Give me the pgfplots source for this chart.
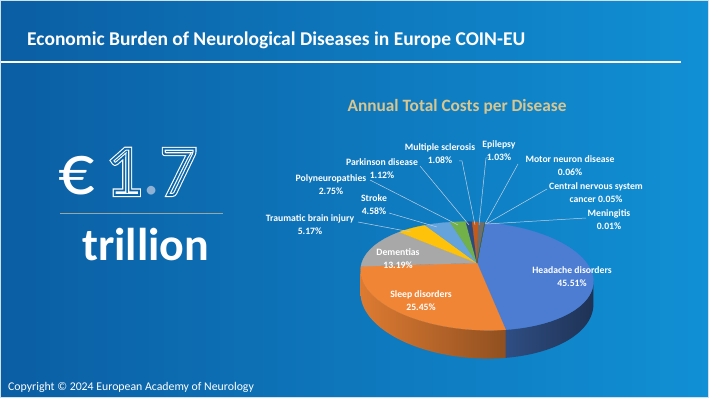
\documentclass[border=0pt]{standalone}
\usepackage{pgfplots}
\pgfplotsset{compat=1.18}
\usepackage{pgfplotstable}
\usepackage{fontspec}
\setmainfont{Carlito}

\definecolor{bgL}{HTML}{0B5EA3}
\definecolor{bgR}{HTML}{1190D5}
\definecolor{bgC}{HTML}{0C64A9}
\definecolor{brd}{HTML}{CFE0EE}
\definecolor{ttl}{HTML}{D8C690}
\definecolor{divC}{HTML}{9AA79E}
\definecolor{ldr}{HTML}{C0D0E0}
\definecolor{dotC}{HTML}{8FB2D4}
\definecolor{s0}{HTML}{4C7DD3}
\definecolor{s1}{HTML}{F08536}
\definecolor{s2}{HTML}{A8A8A8}
\definecolor{s3}{HTML}{FFC20A}
\definecolor{s4}{HTML}{64A3DC}
\definecolor{s5}{HTML}{72B04A}
\definecolor{s6}{HTML}{2A4A80}
\definecolor{s7}{HTML}{C25A1C}
\definecolor{s8}{HTML}{6E6E6E}
\definecolor{s9}{HTML}{997300}
\definecolor{s10}{HTML}{255E91}
\definecolor{s11}{HTML}{43682B}
% side wall shades (only the front slices show a side)
\colorlet{sL0}{s0!62!black}\colorlet{sR0}{s0!40!black}
\colorlet{sL1}{s1!92!black}\colorlet{sR1}{s1!60!black}
\colorlet{sL2}{s2!80!black}\colorlet{sR2}{s2!50!black}

% annual total costs per disease, percent (clockwise from top)
\pgfplotstableread{
pct
45.51
25.45
13.19
5.17
4.58
2.75
1.12
1.08
1.03
0.06
0.05
0.01
}\costs

\newcommand\outl[2]{\special{pdf:literal direct #1 w 1 Tr}#2\special{pdf:literal direct 0 Tr}}
\newcommand\dbl[1]{\rlap{\outl{4}{#1}}{\color{bgC}\outl{1.8}{#1}}}

\begin{document}
\begin{tikzpicture}[x=1pt,y=1pt]
\def\cum{0}
\pgfplotsforeachungrouped \i in {0,...,11}{%
  \pgfplotstablegetelem{\i}{pct}\of\costs
  \pgfmathsetmacro\sa{85-3.6*\cum}%
  \pgfmathsetmacro\cum{\cum+\pgfplotsretval}%
  \pgfmathsetmacro\sb{85-3.6*\cum}%
  \pgfmathsetmacro\vlo{max(\sb,-166.07)}%
  \pgfmathsetmacro\vhi{min(\sa,-13.93)}%
  \pgfmathtruncatemacro\vis{\vhi>\vlo}%
  \expandafter\xdef\csname SA\i\endcsname{\sa}%
  \expandafter\xdef\csname SB\i\endcsname{\sb}%
  \expandafter\xdef\csname VL\i\endcsname{\vlo}%
  \expandafter\xdef\csname VH\i\endcsname{\vhi}%
  \expandafter\xdef\csname SV\i\endcsname{\vis}%
}
\path[use as bounding box] (0,0) rectangle (709,398);
\shade[left color=bgL, right color=bgR] (0,0) rectangle (709,398);
\begin{axis}[at={(0,0)}, anchor=south west, scale only axis,
  width=709pt, height=398pt, xmin=0, xmax=709, ymin=0, ymax=398,
  y dir=reverse, hide axis, clip=false,
  declare function={
    px(\t)=477+113*cos(\t)/(1+0.2407*sin(\t));
    py(\t)=263+(5.31*cos(\t)-50.9*sin(\t))/(1+0.2407*sin(\t));
    dz(\t)=21.5/(1+0.2407*sin(\t));
    th(\t,\a,\b)=\a+(\b-\a)*min(\t,81-\t)/40;
  }]
% side walls
\pgfplotsinvokeforeach{0,...,11}{%
  \edef\vis{\csname SV#1\endcsname}%
  \ifnum\vis=1
    \edef\lo{\csname VL#1\endcsname}\edef\hi{\csname VH#1\endcsname}%
    \addplot[draw=none, left color=sL#1, right color=sR#1,
      domain=0:81, samples=82]
      ({px(th(x,\hi,\lo))},{py(th(x,\hi,\lo))+(x>40.5)*dz(th(x,\hi,\lo))}) -- cycle;
  \fi
}
% top faces
\pgfplotsinvokeforeach{0,...,11}{%
  \edef\lo{\csname SB#1\endcsname}\edef\hi{\csname SA#1\endcsname}%
  \addplot[fill=s#1, draw=s#1, line width=0.2pt, domain=\lo:\hi, samples=50]
    ({px(x)},{py(x)}) -- (axis cs:477,263) -- cycle;
}
% leader lines
\draw[ldr, line width=0.5pt] (420,166) -- (469,225);
\draw[ldr, line width=0.5pt] (459,161) -- (462,161) -- (475,225);
\draw[ldr, line width=0.5pt] (489,158) -- (486,158) -- (479,225);
\draw[ldr, line width=0.5pt] (518,164) -- (485,224);
\draw[ldr, line width=0.5pt] (547,189) -- (486,224);
\draw[ldr, line width=0.5pt] (586,218) -- (487,224);
\draw[ldr, line width=0.5pt] (370,180) -- (458,225);
\draw[ldr, line width=0.5pt] (389,213) -- (437,227);
\draw[ldr, line width=0.5pt] (358,222) -- (411,232);
% slice labels
\tikzset{lbl/.style={text=white, align=center, inner sep=0pt,
  font=\bfseries\fontsize{9.7}{12.8}\selectfont}}
\node[lbl] at (572,277) {Headache disorders\\45.51\%};
\node[lbl] at (421,301) {Sleep disorders\\25.45\%};
\node[lbl] at (398,259) {Dementias\\13.19\%};
\node[lbl] at (310,225) {Traumatic brain injury\\5.17\%};
\node[lbl] at (374,205) {Stroke\\4.58\%};
\node[lbl] at (331,185) {Polyneuropathies\\2.75\%};
\node[lbl] at (382,169) {Parkinson disease\\1.12\%};
\node[lbl] at (440,154) {Multiple sclerosis\\1.08\%};
\node[lbl] at (499,151) {Epilepsy\\1.03\%};
\node[lbl] at (570,166) {Motor neuron disease\\0.06\%};
\node[lbl] at (596,193) {Central nervous system\\cancer 0.05\%};
\node[lbl] at (609,220) {Meningitis\\0.01\%};
% titles
\node[anchor=west, text=white, inner sep=0pt, font=\bfseries\fontsize{19.5}{22}\selectfont] at (27,40) {Economic Burden of Neurological Diseases in Europe COIN-EU};
\draw[white, line width=2.5pt] (0,62) -- (681,62);
\node[text=ttl, inner sep=0pt, font=\bfseries\fontsize{17.3}{20}\selectfont] at (457,107) {Annual Total Costs per Disease};
% big figure
\node[anchor=base west, text=white, inner sep=0pt, font=\fontsize{72}{72}\selectfont] at (58,195) {€\kern11pt\dbl{1}{\color{dotC}.}\dbl{7}};
\draw[divC, line width=0.8pt] (60,213) -- (223,213);
\node[anchor=base west, text=white, inner sep=0pt, font=\bfseries\fontsize{46}{46}\selectfont] at (82,260) {trillion};
\node[anchor=base west, text=white, inner sep=0pt, font=\fontsize{11.8}{14}\selectfont] at (8,390) {Copyright © 2024 European Academy of Neurology};
\draw[brd, line width=1.2pt] (0.6,0.6) rectangle (708.4,397.4);
\end{axis}
\end{tikzpicture}
\end{document}
